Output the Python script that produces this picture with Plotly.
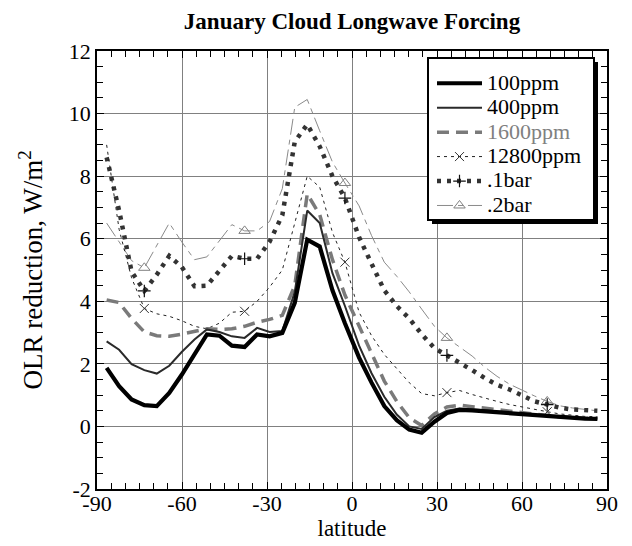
import plotly.graph_objects as go

# Model latitudes (40-point Gaussian grid)
lat = [-86.6, -82.2, -77.8, -73.3, -68.9, -64.5, -60.1, -55.6, -51.2, -46.8,
       -42.4, -37.9, -33.5, -29.1, -24.6, -20.2, -15.8, -11.4, -6.9, -2.5,
       2.5, 6.9, 11.4, 15.8, 20.2, 24.6, 29.1, 33.5, 37.9, 42.4,
       46.8, 51.2, 55.6, 60.1, 64.5, 68.9, 73.3, 77.8, 82.2, 86.6]

# OLR reduction (W/m^2) for each CO2 amount
ppm100 = [1.87, 1.29, 0.86, 0.68, 0.65, 1.07, 1.65, 2.30, 2.94, 2.90,
          2.58, 2.54, 2.94, 2.88, 2.99, 3.95, 5.97, 5.75, 4.35, 3.30,
          2.20, 1.40, 0.65, 0.20, -0.10, -0.20, 0.15, 0.43, 0.53, 0.51,
          0.48, 0.45, 0.41, 0.37, 0.34, 0.31, 0.29, 0.27, 0.25, 0.24]
ppm400 = [2.72, 2.45, 1.99, 1.80, 1.69, 1.94, 2.38, 2.78, 3.10, 3.02,
          2.88, 2.83, 3.15, 3.02, 3.05, 4.30, 6.90, 6.50, 4.90, 3.85,
          2.58, 1.70, 0.95, 0.38, 0.00, -0.08, 0.30, 0.50, 0.57, 0.55,
          0.52, 0.48, 0.44, 0.40, 0.36, 0.33, 0.30, 0.28, 0.26, 0.25]
ppm1600 = [4.04, 3.96, 3.45, 3.02, 2.90, 2.88, 2.95, 3.05, 3.12, 3.10,
           3.12, 3.20, 3.33, 3.42, 3.55, 4.50, 7.43, 6.77, 5.33, 4.20,
           3.20, 2.30, 1.45, 0.80, 0.28, 0.03, 0.40, 0.62, 0.68, 0.63,
           0.58, 0.53, 0.48, 0.43, 0.39, 0.35, 0.31, 0.28, 0.26, 0.25]
ppm12800 = [9.00, 6.30, 4.75, 3.77, 3.60, 3.52, 3.38, 3.20, 3.12, 3.30,
            3.65, 3.68, 4.00, 4.45, 5.00, 6.50, 8.00, 7.65, 6.20, 5.25,
            3.65, 2.90, 2.30, 1.85, 1.40, 1.05, 0.98, 1.08, 1.15, 1.02,
            0.90, 0.80, 0.70, 0.62, 0.53, 0.47, 0.40, 0.35, 0.32, 0.31]
bar01 = [8.60, 6.90, 4.95, 4.33, 4.85, 5.45, 5.10, 4.48, 4.50, 5.00,
         5.45, 5.36, 5.36, 5.90, 6.75, 9.10, 9.65, 8.95, 8.00, 7.30,
         6.05, 5.20, 4.35, 3.85, 3.45, 2.95, 2.50, 2.27, 2.05, 1.80,
         1.55, 1.33, 1.18, 1.00, 0.80, 0.70, 0.60, 0.54, 0.51, 0.50]
bar02 = [6.50, 5.90, 5.30, 5.07, 5.80, 6.50, 5.90, 5.33, 5.42, 5.95,
         6.45, 6.25, 6.25, 6.55, 7.60, 10.20, 10.45, 9.45, 8.45, 7.78,
         7.05, 6.10, 5.25, 4.80, 4.30, 3.75, 3.20, 2.83, 2.55, 2.25,
         1.90, 1.60, 1.35, 1.15, 0.97, 0.80, 0.66, 0.59, 0.54, 0.50]

x_ticks = [-90, -60, -30, 0, 30, 60, 90]
y_ticks = [-2, 0, 2, 4, 6, 8, 10, 12]

SERIF = "Liberation Serif"


def entry(label, color="#000000"):
    return ("<span style='font-size:22px;color:%s'>%s</span>" % (color, label))


# name, values, line style, marker style
series = [
    (entry("100ppm"), ppm100, dict(color="#000000", width=4.2), None),
    (entry("400ppm"), ppm400, dict(color="#2a2a2a", width=2), None),
    (entry("1600ppm", "#808080"), ppm1600,
     dict(color="#7a7a7a", width=3.5, dash="12px,7px"), None),
    (entry("12800ppm"), ppm12800,
     dict(color="#222222", width=1, dash="3px,4px"),
     dict(symbol="x-thin-open", size=9, color="#333333",
          line=dict(width=1, color="#333333"))),
    (entry(".1bar"), bar01, dict(color="#333333", width=4.5, dash="4px,6px"),
     dict(symbol="cross-thin-open", size=9, color="#111111",
          line=dict(width=1.2, color="#111111"))),
    (entry(".2bar"), bar02,
     dict(color="#8a8a8a", width=1, dash="16px,5px,5px,5px"),
     dict(symbol="triangle-up-open", size=10, color="#808080",
          line=dict(width=1, color="#808080"))),
]

MARK_START, MARK_STEP = 3, 8

fig = go.Figure()

# curves: heaviest drawn last so it sits on top
for name, vals, line, marker in reversed(series):
    fig.add_trace(go.Scatter(x=lat, y=vals, mode="lines", line=line,
                             showlegend=False, hoverinfo="skip"))
    if marker is not None:
        idx = list(range(MARK_START, len(lat), MARK_STEP))
        fig.add_trace(go.Scatter(x=[lat[i] for i in idx],
                                 y=[vals[i] for i in idx],
                                 mode="markers", marker=marker,
                                 showlegend=False, hoverinfo="skip"))

# legend entries
for name, vals, line, marker in series:
    fig.add_trace(go.Scatter(x=[None], y=[None],
                             mode="lines+markers" if marker else "lines",
                             line=line, marker=marker, name=name))

PL, PR, PT, PB = 97, 607, 51, 489


def px_x(p):
    return (p - PL) / (PR - PL)


def px_y(p):
    return (PB - p) / (PB - PT)


box = (428, 58, 594, 220)
shadow = 4
shapes = [
    dict(type="rect", xref="paper", yref="paper", layer="above",
         x0=px_x(box[0] + shadow), x1=px_x(box[2] + shadow),
         y0=px_y(box[1] + shadow), y1=px_y(box[3] + shadow),
         fillcolor="#000000", line=dict(width=0)),
    dict(type="rect", xref="paper", yref="paper", layer="above",
         x0=px_x(box[0]), x1=px_x(box[2]),
         y0=px_y(box[1]), y1=px_y(box[3]),
         fillcolor="#ffffff", line=dict(color="#000000", width=2)),
]

axis_common = dict(
    showgrid=True, gridcolor="#808080", gridwidth=1,
    showline=True, linecolor="#000000", linewidth=1.5, mirror="ticks",
    ticks="inside", ticklen=7, tickcolor="#000000", tickwidth=1,
    zeroline=False, automargin=False,
    tickfont=dict(family=SERIF, size=22, color="#000000"),
)

fig.update_layout(
    width=632, height=546,
    margin=dict(l=PL, r=632 - PR, t=PT, b=546 - PB),
    paper_bgcolor="#ffffff", plot_bgcolor="#ffffff",
    font=dict(family=SERIF, color="#000000"),
    title=dict(text="<b>January Cloud Longwave Forcing</b>",
               font=dict(family=SERIF, size=23, color="#000000"),
               x=0.5, xref="paper", xanchor="center",
               y=1 - 21 / 546, yref="container", yanchor="middle"),
    xaxis=dict(range=[-90, 90], tickvals=x_ticks,
               ticktext=[str(v) for v in x_ticks],
               ticklabelstandoff=-6,
               minor=dict(dtick=5, ticks="inside", ticklen=6,
                          tickcolor="#000000", showgrid=False),
               title=dict(text="latitude", standoff=0,
                          font=dict(family=SERIF, size=23)),
               **axis_common),
    yaxis=dict(range=[-2, 12], tickvals=y_ticks,
               ticktext=[str(v) for v in y_ticks],
               minor=dict(dtick=0.5, ticks="inside", ticklen=6,
                          tickcolor="#000000", showgrid=False),
               title=dict(text="OLR reduction, W/m<sup>2</sup>", standoff=18,
                          font=dict(family=SERIF, size=27)),
               **axis_common),
    legend=dict(x=px_x(432), y=px_y(66), xanchor="left", yanchor="top",
                bgcolor="rgba(0,0,0,0)", borderwidth=0,
                font=dict(family=SERIF, size=16.5, color="#000000"),
                itemwidth=45, tracegroupgap=0, traceorder="normal"),
    shapes=shapes,
)

fig.write_html("out.html", include_plotlyjs=True,
               config={"displayModeBar": False})
